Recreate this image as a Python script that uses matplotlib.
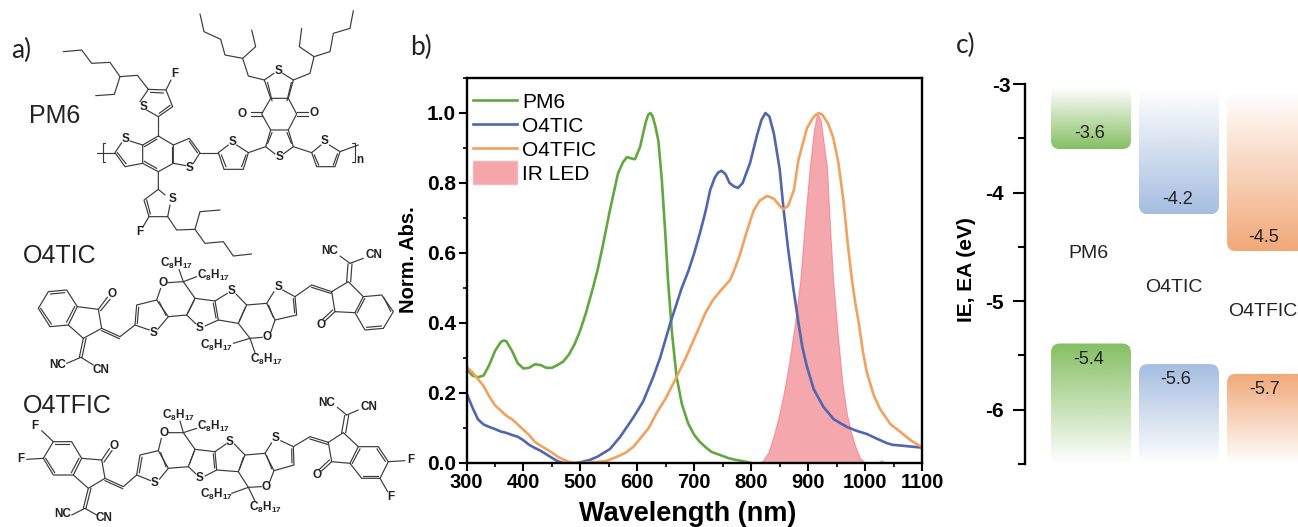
import numpy as np
import matplotlib
matplotlib.use('Agg')
import matplotlib.pyplot as plt
from matplotlib.legend_handler import HandlerPatch
from matplotlib.patches import FancyBboxPatch, Patch, Rectangle
from matplotlib.ticker import MultipleLocator
from matplotlib.transforms import ScaledTranslation

plt.rcParams['font.family'] = ['Liberation Sans', 'DejaVu Sans']
plt.rcParams['mathtext.fontset'] = 'custom'
plt.rcParams['mathtext.rm'] = 'Liberation Sans:bold'
plt.rcParams['mathtext.default'] = 'rm'

W, H = 1298, 527

# panel b: absorbance
pm6_wl = [300, 310, 320, 330, 340, 350, 360, 365, 370, 380, 390, 400, 410, 420, 430, 440, 450, 460, 470, 480,
          490, 500, 510, 522, 530, 538, 552, 566, 575, 582, 590, 596, 605, 610, 615, 619, 623, 627, 632,
          637, 643, 649, 654, 661, 669, 678, 689, 700, 710, 720, 730, 745, 760, 770, 780, 792, 800]
pm6_abs = [.27, .25, .245, .25, .28, .32, .345, .35, .348, .32, .285, .27, .272, .282, .28, .272, .272, .28, .29, .31,
           .34, .38, .43, .50, .55, .61, .723, .827, .86, .874, .87, .868, .904, .94, .975, .995, 1.0, .99, .96,
           .92, .81, .66, .52, .37, .246, .17, .114, .08, .06, .045, .032, .023, .014, .01, .007, .003, 0]

o4tic_wl = [300, 310, 320, 330, 340, 350, 360, 370, 380, 390, 400, 410, 420, 430, 440, 450, 460, 470, 480, 490,
            500, 517, 530, 540, 552, 570, 593, 610, 628, 640, 658, 670, 678, 690, 700, 710, 720, 728, 736, 742,
            748, 755, 762, 770, 777, 785, 798, 810, 818, 825, 832, 840, 850, 857, 865, 874, 883, 890, 898, 910,
            927, 945, 968, 985, 1003, 1020, 1038, 1048, 1062, 1080, 1100]
o4tic_abs = [.2, .16, .125, .11, .103, .097, .09, .086, .08, .075, .065, .052, .043, .035, .025, .015, .005, 0, 0, 0,
             .002, .009, .018, .028, .04, .075, .13, .175, .246, .30, .40, .46, .50, .55, .60, .657, .72, .78, .815, .83,
             .835, .825, .80, .79, .786, .80, .857, .935, .98, 1.0, .99, .94, .84, .723, .61, .50, .40, .33, .275, .21,
             .16, .125, .103, .092, .083, .07, .057, .052, .05, .047, .044]

o4tfic_wl = [300, 310, 320, 330, 340, 350, 360, 370, 380, 390, 400, 410, 420, 430, 440, 450, 460, 470, 480, 490,
             500, 520, 530, 546, 560, 570, 580, 593, 610, 620, 634, 650, 669, 685, 704, 720, 733, 745, 763, 770,
             780, 792, 804, 815, 828, 840, 850, 856, 865, 875, 883, 898, 908, 914, 919, 925, 935, 944, 953, 962,
             970, 977, 983, 989, 996, 1003, 1015, 1026, 1045, 1062, 1080, 1100]
o4tfic_abs = [.275, .26, .24, .22, .19, .165, .15, .135, .125, .11, .095, .08, .06, .05, .04, .03, .018, .01, .003, 0,
              0, .002, .003, .006, .015, .022, .03, .046, .08, .10, .143, .185, .246, .30, .37, .43, .466, .49, .523, .55,
              .594, .66, .72, .75, .763, .755, .735, .725, .735, .78, .866, .957, .985, .996, 1.0, .995, .97, .93, .86, .75,
              .62, .523, .455, .40, .32, .26, .195, .155, .11, .089, .065, .045]

led_wl = [700, 750, 800, 815, 821, 830, 839, 848, 856, 866, 877, 886, 895, 903, 910, 916, 922, 933, 939, 944,
          953, 960, 968, 975, 983, 991, 1000, 1022, 1030, 1032]
led_abs = [.003, .003, .001, 0, .008, .03, .075, .13, .19, .28, .40, .52, .70, .846, .95, 1.0, .98, .846, .657, .52,
           .35, .23, .14, .09, .047, .014, .002, .002, .008, 0]

# panel c: band edges
materials = ['PM6', 'O4TIC', 'O4TFIC']
ea_edges = [-3.6, -4.2, -4.54]
ie_edges = [-5.39, -5.58, -5.67]
ea_tops = [-3.03, -3.05, -3.08]
ea_labels = ['-3.6', '-4.2', '-4.5']
ie_labels = ['-5.4', '-5.6', '-5.7']
band_colors = ['#86bf62', '#a5bde0', '#f1a878']

# panel a: molecule drawings, in 3x zoomed pixels of the source crops
PM6_CHAINS = [
    [(190, 155), (245, 150), (275, 190), (330, 187), (360, 230), (412, 226), (445, 268)],
    [(360, 230), (343, 283), (287, 287)],
    [(445, 268), (498, 270), (518, 320), (475, 350), (440, 330)], [(420, 305), (445, 268)],
    [(498, 270), (513, 240)], [(475, 350), (475, 408)],
    [(475, 408), (520, 435), (520, 490), (475, 515), (428, 490), (428, 435), (475, 408)],
    [(428, 435), (390, 423)], [(365, 428), (345, 458), (375, 500), (428, 490)],
    [(520, 435), (568, 415), (600, 458), (580, 490)], [(558, 497), (520, 490)],
    [(292, 458), (345, 458)], [(600, 458), (655, 458)],
    [(655, 458), (685, 435)], [(710, 435), (745, 458), (730, 508), (672, 508), (655, 458)],
    [(745, 458), (797, 440)],
    [(797, 440), (812, 390), (865, 390), (880, 440), (850, 462)], [(825, 462), (797, 440)],
    [(812, 390), (785, 342), (812, 295), (865, 295), (890, 342), (865, 390)],
    [(812, 295), (793, 240), (822, 220)], [(848, 220), (880, 240), (865, 295)],
    [(793, 240), (745, 228), (728, 175), (675, 165), (662, 118), (612, 95), (600, 42)],
    [(728, 175), (767, 140), (755, 90)],
    [(880, 240), (930, 220), (942, 170), (990, 155), (1000, 100), (1050, 85), (1060, 32)],
    [(942, 170), (898, 140), (905, 85)],
    [(880, 440), (935, 458), (963, 435)], [(988, 435), (1020, 455), (1005, 500), (950, 500), (935, 458)],
    [(1020, 455), (1075, 435)],
    [(316, 430), (308, 430), (308, 485), (316, 485)], [(1056, 430), (1065, 430), (1065, 487), (1056, 487)],
    [(475, 515), (475, 568), (432, 600), (447, 650), (503, 650), (510, 615)], [(495, 585), (475, 568)],
    [(447, 650), (428, 682)],
    [(503, 650), (530, 690), (585, 688), (600, 635), (660, 630)],
    [(585, 688), (615, 730), (670, 725), (700, 768), (755, 762)],
]
PM6_DOUBLES = [((452, 277), (490, 279)), ((510, 316), (478, 340)), ((433, 440), (470, 418)), ((515, 442), (515, 485)),
               ((470, 505), (433, 484)), ((352, 458), (378, 491)), ((568, 424), (592, 458)),
               ((664, 465), (678, 500)), ((738, 465), (725, 500)),
               ((803, 430), (816, 398)), ((861, 398), (874, 430)), ((816, 302), (803, 248)), ((861, 302), (874, 248)),
               ((785, 336), (752, 336)), ((785, 348), (752, 348)), ((890, 336), (925, 336)), ((890, 348), (925, 348)),
               ((943, 465), (956, 495)), ((1012, 462), (1000, 495)), ((440, 600), (451, 642))]
PM6_ATOMS = [('F', 525, 222), ('S', 430, 320), ('S', 377, 418), ('S', 570, 503), ('S', 697, 425), ('S', 838, 470),
             ('S', 835, 212), ('O', 727, 343), ('O', 942, 340), ('S', 975, 422), ('n', 1078, 480), ('S', 518, 598),
             ('F', 418, 695)]

TIC_CHAINS = [
    [(115, 205), (145, 155), (200, 150), (232, 200), (205, 255), (150, 260), (115, 205)],
    [(232, 200), (295, 208), (305, 265), (250, 295), (205, 255)],
    [(305, 265), (360, 290), (405, 255), (410, 195), (470, 180), (505, 230), (473, 268)], [(448, 270), (405, 255)],
    [(470, 180), (482, 145)], [(503, 128), (550, 125), (585, 175), (560, 225), (505, 230)],
    [(550, 125), (537, 88)], [(550, 125), (590, 110)],
    [(585, 175), (645, 183), (655, 240), (615, 258)], [(588, 252), (560, 225)],
    [(645, 183), (682, 160)], [(708, 162), (740, 195), (715, 250), (655, 240)],
    [(740, 195), (800, 190), (825, 240), (812, 278)], [(787, 292), (750, 295), (715, 250)],
    [(800, 190), (822, 155)], [(848, 150), (885, 170), (890, 225), (825, 240)],
    [(885, 170), (935, 135), (995, 155), (1045, 125), (1090, 170), (1065, 218), (1005, 215), (995, 155)],
    [(1090, 170), (1145, 165), (1180, 215), (1150, 265), (1095, 270), (1065, 218)],
    [(1050, 70), (1020, 48)], [(1050, 70), (1090, 55)],
    [(750, 295), (700, 310)], [(750, 295), (765, 338)],
    [(243, 352), (200, 370)], [(243, 352), (280, 375)],
]
TIC_DOUBLES = [((295, 208), (322, 172)), ((302, 212), (330, 178)), ((305, 272), (358, 296)),
               ((1005, 215), (975, 243)), ((998, 210), (968, 238)), ((935, 142), (992, 160)),
               ((1040, 125), (1044, 72)), ((1052, 125), (1056, 72)), ((250, 295), (238, 352)), ((258, 295), (246, 352)),
               ((152, 162), (194, 158)), ((224, 200), (200, 246)), ((122, 205), (154, 252)),
               ((1151, 172), (1172, 214)), ((1144, 258), (1100, 262)), ((1072, 218), (1094, 176)),
               ((416, 202), (412, 250)), ((478, 186), (498, 226)), ((582, 182), (563, 220)), ((640, 190), (648, 234)),
               ((736, 202), (718, 243)), ((806, 196), (820, 232)), ((880, 176), (884, 218))]
TIC_ATOMS = [('O', 335, 162), ('S', 460, 280), ('O', 490, 128), ('S', 600, 265), ('S', 695, 152), ('O', 802, 292),
             ('S', 835, 142), ('O', 962, 255), ('NC', 990, 32), ('CN', 1122, 45), ('NC', 172, 375), ('CN', 303, 390)]
TIC_ALKYL = [(530, 70), (640, 105), (650, 315), (800, 358)]

TFIC_CHAINS = [
    [(130, 655), (160, 605), (215, 605), (245, 655), (220, 705), (160, 705), (130, 655)],
    [(130, 655), (80, 658)], [(160, 605), (125, 572)],
    [(245, 655), (305, 660), (315, 715), (265, 745), (220, 705)],
    [(315, 715), (370, 740), (410, 705), (420, 645), (475, 632), (505, 685), (478, 718)], [(452, 722), (410, 705)],
    [(475, 632), (484, 595)], [(505, 578), (550, 578), (585, 628), (565, 680), (505, 685)],
    [(550, 578), (540, 543)], [(550, 578), (590, 565)],
    [(585, 628), (645, 635), (650, 690), (615, 708)], [(588, 702), (565, 680)],
    [(645, 635), (678, 612)], [(703, 612), (735, 645), (715, 695), (650, 690)],
    [(735, 645), (795, 640), (822, 692), (808, 728)], [(785, 740), (745, 742), (715, 695)],
    [(795, 640), (815, 608)], [(842, 602), (880, 620), (882, 675), (822, 692)],
    [(880, 620), (930, 590), (985, 607), (1030, 578), (1075, 620), (1050, 670), (995, 665), (985, 607)],
    [(1075, 620), (1135, 620), (1165, 665), (1140, 715), (1085, 715), (1050, 670)],
    [(1165, 665), (1215, 662)], [(1140, 715), (1163, 755)],
    [(1040, 525), (1012, 502)], [(1040, 525), (1075, 510)],
    [(745, 742), (695, 760)], [(745, 742), (765, 783)],
    [(255, 805), (215, 825)], [(255, 805), (290, 825)],
]
TFIC_DOUBLES = [((305, 660), (328, 626)), ((312, 666), (336, 632)), ((315, 722), (368, 746)),
                ((995, 665), (965, 693)), ((988, 660), (958, 688)), ((930, 597), (982, 613)),
                ((1025, 578), (1034, 527)), ((1037, 578), (1046, 527)), ((265, 745), (250, 805)), ((273, 745), (258, 805)),
                ((166, 613), (208, 613)), ((237, 655), (214, 698)), ((137, 655), (164, 698)),
                ((1131, 627), (1156, 664)), ((1134, 708), (1090, 708)), ((1057, 670), (1080, 627)),
                ((426, 652), (418, 698)), ((482, 638), (498, 680)), ((582, 635), (568, 673)), ((640, 642), (644, 684)),
                ((730, 652), (718, 688)), ((800, 647), (815, 686)), ((875, 627), (876, 668))]
TFIC_ATOMS = [('F', 62, 656), ('F', 105, 558), ('O', 342, 617), ('S', 465, 730), ('O', 492, 580), ('S', 600, 715),
              ('S', 690, 605), ('O', 798, 740), ('S', 828, 595), ('O', 952, 705), ('NC', 980, 488), ('CN', 1107, 500),
              ('NC', 187, 822), ('CN', 312, 835), ('F', 1232, 660), ('F', 1172, 772)]
TFIC_ALKYL = [(535, 525), (640, 558), (648, 763), (795, 803)]


def px_axes(fig, left, top, right, bottom):
    return fig.add_axes([left / W, 1 - bottom / H, (right - left) / W, (bottom - top) / H])


def draw_molecule(ax, chains, doubles, atoms, alkyl=(), offset_y=0):
    for chain in chains:
        xs, ys = zip(*chain)
        ax.plot(np.array(xs) / 3, np.array(ys) / 3 + offset_y, color='#3a3a3a', lw=0.85, solid_capstyle='round')
    for p, q in doubles:
        ax.plot([p[0] / 3, q[0] / 3], [p[1] / 3 + offset_y, q[1] / 3 + offset_y], color='#3a3a3a', lw=0.85)
    for label, x, y in atoms:
        ax.text(x / 3, y / 3 + offset_y, label, fontsize=8.5, fontweight='bold', color='#222222',
                ha='center', va='center')
    for x, y in alkyl:
        ax.text(x / 3, y / 3 + offset_y, r'$\mathrm{C_8H_{17}}$', fontsize=8.5, color='#222222',
                ha='center', va='center')


def big_patch(legend, orig_handle, xdescent, ydescent, width, height, fontsize):
    return Rectangle((-xdescent, -ydescent - 0.3 * height), width, height * 1.55)


fig = plt.figure(figsize=(W / 100, H / 100), dpi=100)

# overlay in source pixels, for panel a and the free text
bg = fig.add_axes([0, 0, 1, 1])
bg.set_xlim(0, W)
bg.set_ylim(H, 0)
bg.axis('off')

draw_molecule(bg, PM6_CHAINS, PM6_DOUBLES, PM6_ATOMS)
draw_molecule(bg, TIC_CHAINS, TIC_DOUBLES, TIC_ATOMS, TIC_ALKYL, offset_y=240)
draw_molecule(bg, TFIC_CHAINS, TFIC_DOUBLES, TFIC_ATOMS, TFIC_ALKYL, offset_y=240)

for txt, x, y in [('a)', 21, 50), ('b)', 421, 47), ('c)', 966, 45)]:
    bg.text(x, y, txt, family='Lato', fontsize=19, color='#222222', ha='center', va='center')
for txt, x, y in [('PM6', 55, 116), ('O4TIC', 60, 256), ('O4TFIC', 67, 406)]:
    bg.text(x, y, txt, fontsize=18, color='#222222', ha='center', va='center')

# panel b
ax = px_axes(fig, 466.5, 78, 922, 463)
ax.plot(pm6_wl, pm6_abs, color='#62a83f', lw=1.9, label='PM6', solid_joinstyle='round')
ax.plot(o4tic_wl, o4tic_abs, color='#5166ac', lw=1.9, label='O4TIC', solid_joinstyle='round')
ax.plot(o4tfic_wl, o4tfic_abs, color='#f3a15e', lw=1.9, label='O4TFIC', solid_joinstyle='round')
ax.fill_between(led_wl, led_abs, facecolor='#ee6e79', alpha=0.6, edgecolor='#ee6e79', lw=0.8)
ax.set_xlim(300, 1100)
ax.set_ylim(0, 1.1)
ax.xaxis.set_major_locator(MultipleLocator(100))
ax.xaxis.set_minor_locator(MultipleLocator(50))
ax.yaxis.set_major_locator(MultipleLocator(0.2))
ax.yaxis.set_minor_locator(MultipleLocator(0.1))
ax.tick_params(axis='x', which='major', length=5.5, width=1.5, labelsize=14.5, pad=2)
ax.tick_params(axis='y', which='major', length=5.5, width=1.5, labelsize=15, pad=2)
ax.tick_params(which='minor', length=3, width=1.2)
for lab in ax.get_xticklabels() + ax.get_yticklabels():
    lab.set_fontweight('bold')
for sp in ax.spines.values():
    sp.set_linewidth(1.7)
bg.text(688, 514, 'Wavelength (nm)', fontsize=19.5, fontweight='bold', ha='center', va='center')
bg.text(408, 260, 'Norm. Abs.', fontsize=14.5, fontweight='bold', rotation=90, ha='center', va='center')

handles, labels = ax.get_legend_handles_labels()
handles.append(Patch(facecolor='#f4a6ab', edgecolor='#f2b8bb', label='IR LED'))
labels.append('IR LED')
ax.legend(handles, labels, loc='upper left', frameon=False, fontsize=15, handlelength=2.1, handletextpad=0.28,
          labelspacing=0.24, borderaxespad=0, borderpad=0, bbox_to_anchor=(0.014, 0.962),
          handler_map={Patch: HandlerPatch(patch_func=big_patch)})

# panel c
axc = px_axes(fig, 1025, 84, W, 464)
band_lefts = [26, 114, 202]
band_width = 80
for i, color in enumerate(band_colors):
    rgb = matplotlib.colors.to_rgb(color)
    for top, bottom, fade_up in [(ea_tops[i], ea_edges[i], True), (ie_edges[i], -6.5, False)]:
        alpha = np.linspace(0, 1, 128)
        if not fade_up:
            alpha = alpha[::-1]
        grad = np.ones((128, 1, 4))
        grad[:, 0, :3] = rgb
        grad[:, 0, 3] = alpha
        im = axc.imshow(grad, extent=[band_lefts[i], band_lefts[i] + band_width, bottom, top],
                        aspect='auto', origin='upper', interpolation='bilinear', zorder=1)
        box = FancyBboxPatch((band_lefts[i], bottom), band_width, top - bottom,
                             boxstyle='round,pad=0,rounding_size=9', mutation_aspect=1 / 108.5,
                             facecolor='none', edgecolor='none')
        axc.add_patch(box)
        im.set_clip_path(box)
axc.set_xlim(0, W - 1025)
axc.set_ylim(-6.5, -3)
for s in ['top', 'right', 'bottom']:
    axc.spines[s].set_visible(False)
axc.spines['left'].set_linewidth(1.7)
axc.set_xticks([])
axc.set_yticks([-3, -4, -5, -6])
axc.set_yticks([-3.5, -4.5, -5.5, -6.5], minor=True)
axc.set_yticklabels(['-3', '-4', '-5', '-6'], fontsize=15, fontweight='bold')
axc.tick_params(axis='y', which='major', length=9, width=1.5, pad=6)
axc.tick_params(axis='y', which='minor', length=5, width=1.5)
axc.patch.set_alpha(0)
# the -3 label sits a little further right in the source
top_label = axc.get_yticklabels()[0]
top_label.set_transform(top_label.get_transform() + ScaledTranslation(0.07, 0, fig.dpi_scale_trans))

bg.text(967, 270, 'IE, EA (eV)', fontsize=15, fontweight='bold', rotation=90, ha='center', va='center')
for txt, x, y in zip(materials, [1088, 1174, 1263], [254, 287, 312]):
    bg.text(x, y, txt, fontsize=14, color='#222222', ha='center', va='center')
for txt, x, y in zip(ea_labels + ie_labels, [1090, 1178, 1264, 1089, 1176, 1265], [134, 199.5, 237, 360, 379, 389]):
    bg.text(x, y, txt, fontsize=13, color='#222222', ha='center', va='center', zorder=10)

# keep the text overlay on top of the band gradients
bg.set_zorder(5)
fig.savefig('out.png', dpi=100)
